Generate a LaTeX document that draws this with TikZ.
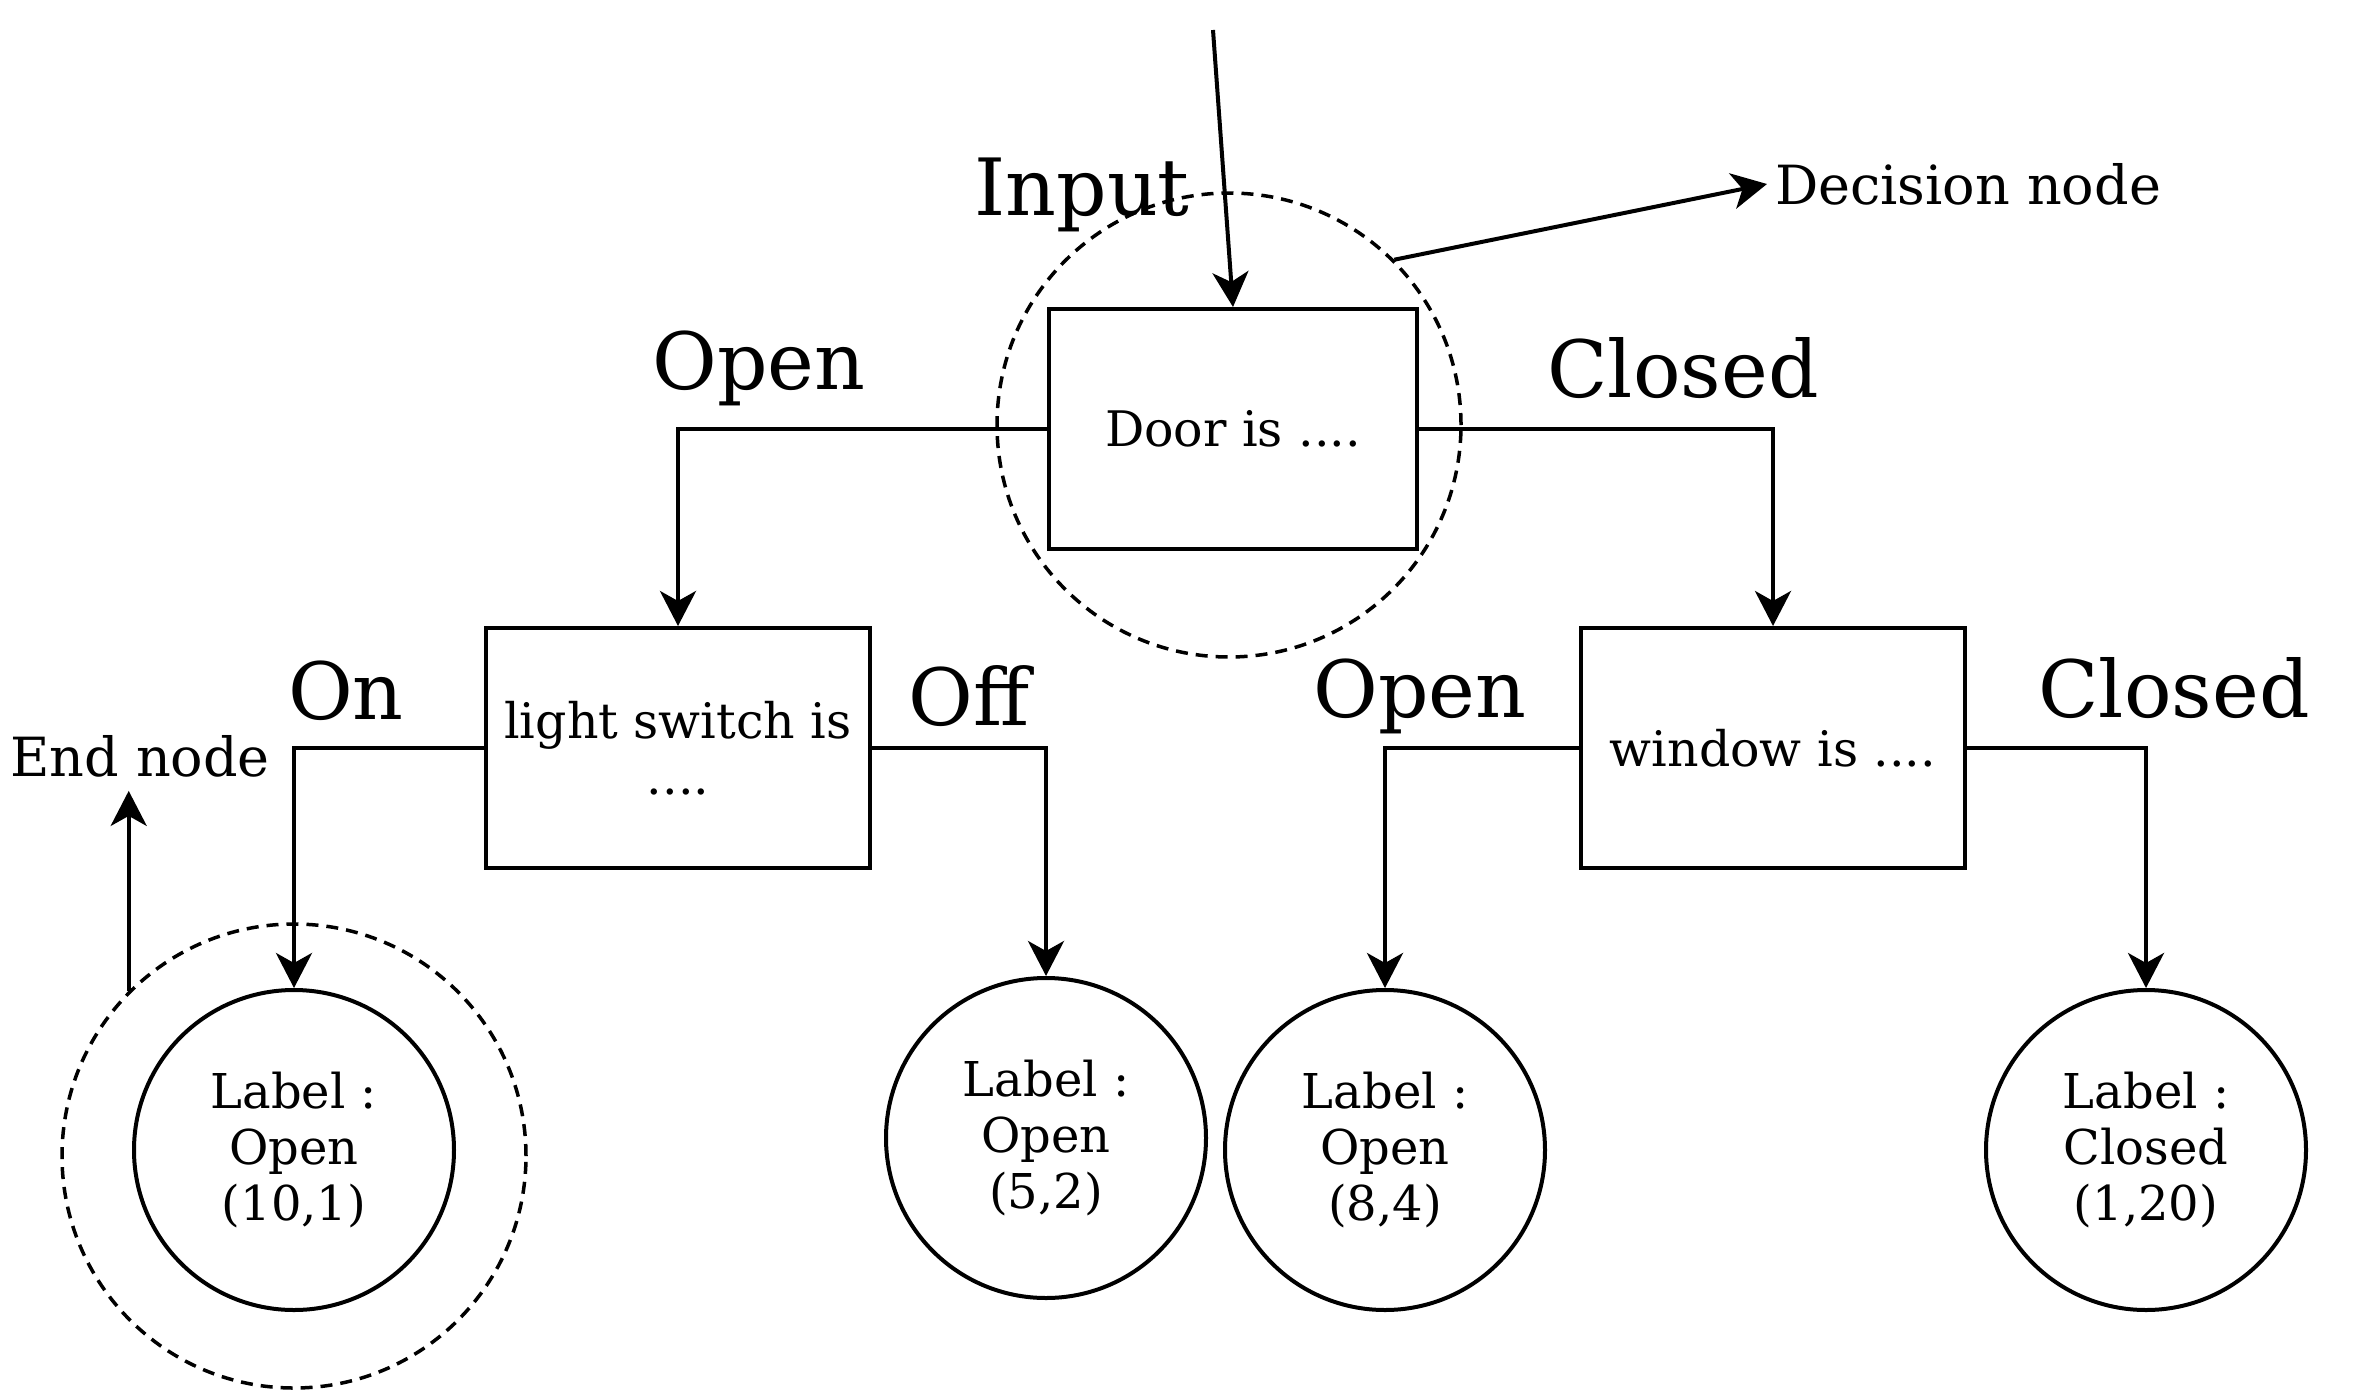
\documentclass[tikz,border=0pt]{standalone}
\usepackage{fontspec}
\setmainfont{DejaVu Serif}
\usetikzlibrary{arrows.meta}

\begin{document}
\begin{tikzpicture}[x=1pt,y=-1pt,line width=4pt,
  box/.style={draw,rectangle,minimum width=384pt,minimum height=240pt,align=center,font=\fontsize{49}{56}\selectfont},
  leaf/.style={draw,circle,minimum size=320pt,inner sep=0pt,align=center,font=\fontsize{48}{56}\selectfont},
  ring/.style={draw,circle,line width=3.5pt,dash pattern=on 12pt off 8pt,minimum size=464pt,inner sep=0pt},
  branchlbl/.style={inner sep=0pt,font=\fontsize{79}{90}\selectfont},
  note/.style={inner sep=0pt,font=\fontsize{54}{60}\selectfont},
  arr/.style={-{Stealth[length=35pt,width=36pt,inset=10pt]}}]
\path[use as bounding box] (0,0) rectangle (2356,1392);
% decision boxes
\node[box,minimum width=368pt] (door) at (1233,429) {Door is ....};
\node[box] (light) at (678,748) {light switch is\\....};
\node[box] (window) at (1773,748) {window is ....};
% leaves
\node[leaf] (leafa) at (294,1150) {Label :\\Open\\(10,1)};
\node[leaf] (leafb) at (1046,1138) {Label :\\Open\\(5,2)};
\node[leaf] (leafc) at (1385,1150) {Label :\\Open\\(8,4)};
\node[leaf] (leafd) at (2146,1150) {Label :\\Closed\\(1,20)};
% dashed markers
\node[ring] (doorring) at (1229,425) {};
\node[ring] (endring) at (294,1156) {};
% texts
\node[branchlbl] (inlbl) at (1082,195) {Input};
\node[branchlbl] (dopen) at (759,368) {Open};
\node[branchlbl] (dclosed) at (1683,368) {Closed};
\node[branchlbl] (lon) at (346,691) {On};
\node[branchlbl] (loff) at (969,696) {Off};
\node[branchlbl] (wopen) at (1420,696) {Open};
\node[branchlbl] (wclosed) at (2174,688) {Closed};
\node[note,anchor=west] (declbl) at (1773,184) {Decision node};
\node[note] (endlbl) at (140,756) {End node};
\coordinate (input) at (1213,30);
% connectors
\draw[arr] (input) -- (door.north);
\draw[arr] (door.west) -| (light.north);
\draw[arr] (door.east) -| (window.north);
\draw[arr] (light.west) -| (leafa.north);
\draw[arr] (light.east) -| (leafb.north);
\draw[arr] (window.west) -| (leafc.north);
\draw[arr] (window.east) -| (leafd.north);
\draw[arr] (doorring.45) -- ([xshift=-6pt]declbl.west);
\draw[arr] (endring.135) -- ([yshift=-12pt]endring.135 |- endlbl.south);
\end{tikzpicture}
\end{document}
